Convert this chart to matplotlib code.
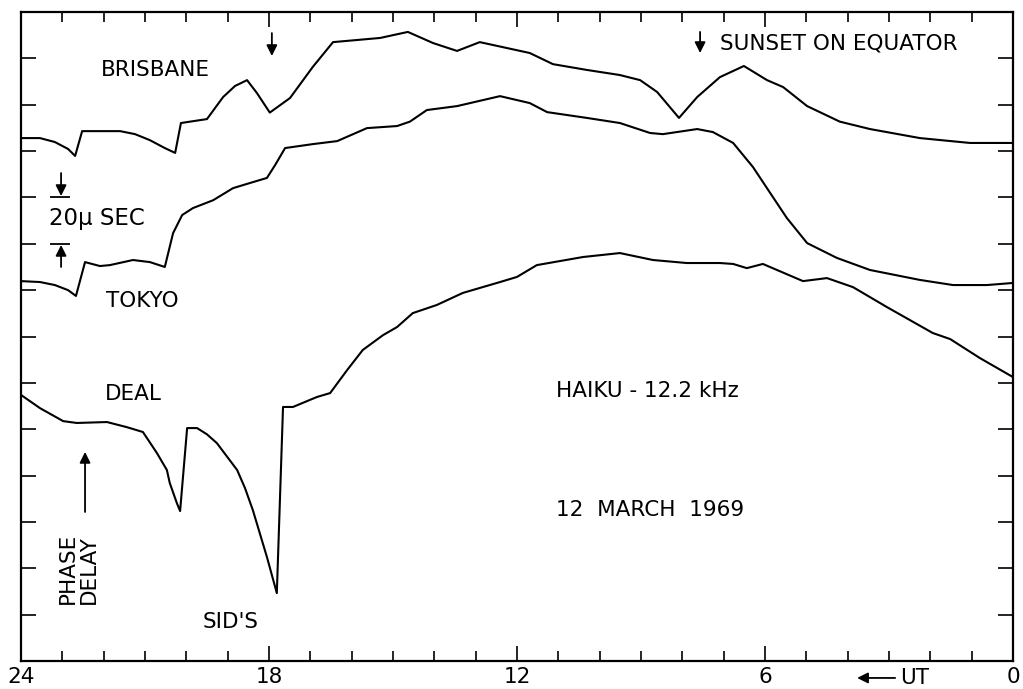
import matplotlib
matplotlib.use("Agg")
import matplotlib.pyplot as plt
from matplotlib.ticker import MultipleLocator

# UT hours (24 -> 0) and phase delay in microseconds
brisbane_ut = [24.00, 23.54, 23.18, 22.86, 22.69, 22.52, 21.60, 21.24, 20.88, 20.52,
               20.27, 20.13, 19.50, 19.11, 18.82, 18.53, 18.29, 17.98, 17.49, 16.94,
               16.45, 15.31, 14.64, 14.03, 13.45, 12.90, 11.69, 11.13, 10.31, 9.51,
               9.02, 8.61, 8.08, 7.64, 7.09, 6.51, 5.95, 5.56, 4.98, 4.19,
               3.46, 2.25, 1.04, 0.00]
brisbane_us = [225.6, 225.6, 223.9, 220.9, 217.9, 228.6, 228.6, 227.3, 224.7, 221.3,
               219.2, 232.1, 233.8, 243.3, 248.1, 250.6, 245.0, 236.6, 242.9, 256.3,
               267.0, 268.8, 271.4, 266.6, 263.2, 267.0, 262.3, 257.5, 255.0, 252.8,
               250.6, 245.5, 234.3, 243.3, 251.9, 256.7, 250.6, 247.6, 239.4, 232.7,
               229.5, 225.6, 223.5, 223.5]

tokyo_ut = [24.00, 23.54, 23.18, 22.86, 22.67, 22.45, 22.09, 21.85, 21.29, 20.88,
            20.52, 20.32, 20.10, 19.84, 19.35, 18.87, 18.39, 18.05, 17.85, 17.61,
            16.94, 16.35, 15.63, 14.90, 14.59, 14.18, 13.45, 12.41, 11.69, 11.27,
            10.31, 9.51, 8.78, 8.47, 7.64, 7.26, 6.77, 6.29, 5.81, 5.47,
            4.98, 4.26, 3.46, 2.25, 1.45, 0.63, 0.00]
tokyo_us = [163.9, 163.5, 162.2, 160.0, 157.5, 172.1, 170.4, 170.8, 173.0, 172.1,
            170.0, 184.6, 192.4, 195.4, 198.8, 204.0, 206.6, 208.4, 214.0, 221.3,
            223.0, 224.3, 229.9, 230.8, 232.7, 237.7, 239.4, 243.7, 240.7, 236.8,
            234.3, 232.1, 227.8, 227.3, 229.5, 228.2, 223.5, 213.1, 200.2, 191.1,
            180.3, 173.9, 168.7, 164.4, 162.2, 162.2, 163.1]

deal_ut = [24.00, 23.54, 22.98, 22.65, 21.92, 21.44, 21.05, 20.71, 20.47, 20.40,
           20.23, 20.15, 19.98, 19.74, 19.50, 19.26, 18.77, 18.58, 18.39, 18.05,
           17.81, 17.66, 17.42, 16.84, 16.52, 16.11, 15.73, 15.24, 14.90, 14.52,
           13.94, 13.31, 12.41, 12.00, 11.52, 10.40, 9.51, 8.71, 7.89, 7.09,
           6.77, 6.44, 6.05, 5.71, 5.08, 4.50, 3.87, 3.05, 1.94, 1.52,
           0.80, 0.00]
deal_us = [114.8, 109.1, 103.5, 102.7, 103.1, 100.9, 98.8, 89.7, 82.4, 76.8,
           68.2, 64.7, 100.5, 100.5, 97.8, 94.0, 82.4, 74.6, 65.1, 44.9,
           29.3, 109.6, 109.6, 113.9, 115.6, 125.5, 134.2, 140.6, 144.1, 150.1,
           153.6, 158.8, 163.5, 165.7, 170.8, 174.3, 176.0, 173.0, 171.7, 171.7,
           171.3, 169.5, 171.3, 168.7, 163.9, 165.2, 161.3, 152.7, 141.5, 138.9,
           130.7, 122.5]

hour_labels = ["24", "18", "12", "6", "0"]
hour_ticks = [24, 18, 12, 6, 0]

plt.rcParams["font.family"] = "DejaVu Sans"
fig = plt.figure(figsize=(10.23, 6.89), dpi=100)
ax = fig.add_axes([0.0205, 0.0406, 0.9697, 0.942])

for xs, ys in [(brisbane_ut, brisbane_us), (tokyo_ut, tokyo_us), (deal_ut, deal_us)]:
    ax.plot(xs, ys, color="black", lw=1.5, solid_joinstyle="round")

ax.set_xlim(24, 0)
ax.set_ylim(0, 280)
ax.set_xticks(hour_ticks)
ax.set_xticklabels(hour_labels, fontsize=15.5)
ax.xaxis.set_minor_locator(MultipleLocator(1))
ax.yaxis.set_major_locator(MultipleLocator(20))
ax.set_yticklabels([])
ax.tick_params(axis="x", which="major", direction="in", length=11, width=1.2,
               top=True, pad=4)
ax.tick_params(axis="x", which="minor", direction="in", length=7, width=1.2, top=True)
ax.tick_params(axis="y", which="major", direction="in", length=11, width=1.2,
               right=True, left=True)
for sp in ax.spines.values():
    sp.set_linewidth(1.6)

fs = 15.5
ax.text(20.76, 255.0, "BRISBANE", fontsize=fs, ha="center", va="center")
ax.text(21.07, 155.3, "TOKYO", fontsize=fs, ha="center", va="center")
ax.text(21.29, 115.2, "DEAL", fontsize=fs, ha="center", va="center")
ax.text(23.32, 191.1, "20\u03bc SEC", fontsize=16.5, ha="left", va="center")
ax.text(7.09, 266.6, "SUNSET ON EQUATOR", fontsize=fs, ha="left", va="center")
ax.text(11.06, 116.5, "HAIKU - 12.2 kHz", fontsize=fs, ha="left", va="center")
ax.text(11.06, 65.1, "12  MARCH  1969", fontsize=fs, ha="left", va="center")
ax.text(18.92, 16.8, "SID'S", fontsize=fs, ha="center", va="center")
ax.text(22.62, 40.1, "PHASE\nDELAY", fontsize=fs, rotation=90, ha="center",
        va="center", multialignment="left", linespacing=1.05)
ax.text(2.73, -7.3, "UT", fontsize=fs, ha="left", va="center", clip_on=False)

arrow = dict(arrowstyle="-|>", color="black", lw=1.3, mutation_scale=16,
             shrinkA=0, shrinkB=0)
# arrow at 18 UT and sunset marker
ax.annotate("", xy=(17.93, 261.0), xytext=(17.93, 270.9), arrowprops=arrow)
ax.annotate("", xy=(7.57, 262.3), xytext=(7.57, 271.4), arrowprops=arrow)
# 20 microsecond scale bar
ax.annotate("", xy=(23.03, 200.6), xytext=(23.03, 210.5), arrowprops=arrow)
ax.annotate("", xy=(23.03, 179.5), xytext=(23.03, 170.0), arrowprops=arrow)
ax.hlines([200.2, 179.9], 23.30, 22.81, color="black", lw=1.3)
# phase delay arrow
ax.annotate("", xy=(22.45, 90.2), xytext=(22.45, 64.3), arrowprops=arrow)
# UT direction arrow
ax.annotate("", xy=(3.77, -7.3), xytext=(2.85, -7.3), arrowprops=arrow,
            annotation_clip=False)

fig.savefig("out.png", dpi=100)
